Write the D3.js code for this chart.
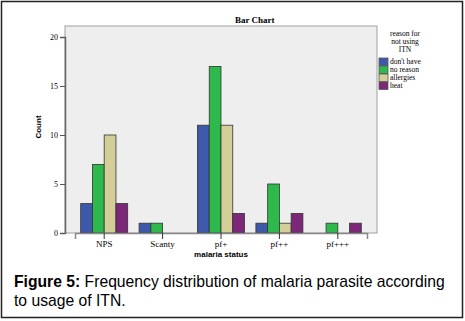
<!DOCTYPE html>
<html>
<head>
<meta charset="utf-8">
<script src="https://cdn.jsdelivr.net/npm/d3@7"></script>
<style>
  body { margin: 0; background: #fff; }
  svg text { fill: #000; }
</style>
</head>
<body>
<svg id="chart" width="465" height="321"></svg>
<script>
var categories = [ 'NPS', 'Scanty', 'pf+', 'pf++', 'pf+++' ];
var reasons = [ "don't have", 'no reason', 'allergies', 'heat' ];
var dontHave = [ 3, 1, 11, 1, 0 ];
var noReason = [ 7, 1, 17, 5, 1 ];
var allergies = [ 10, 0, 11, 1, 0 ];
var heat = [ 3, 0, 2, 2, 1 ];
var yTicks = [ 0, 5, 10, 15, 20 ];
var colors = [ '#3f59aa', '#2db94b', '#d4cf99', '#7d2779' ];

var series = [ dontHave, noReason, allergies, heat ];

var svg = d3.select( '#chart' );

// outer frame
svg.append( 'rect' )
	.attr( 'x', 1.5 ).attr( 'y', 1.5 )
	.attr( 'width', 461 ).attr( 'height', 316 )
	.attr( 'fill', '#fff' ).attr( 'stroke', '#222' ).attr( 'stroke-width', 1.5 );

var plot = { left: 65, top: 26, right: 377, bottom: 233 };

var x = d3.scaleBand()
	.domain( categories )
	.range( [ plot.left + 10, plot.right - 10 ] )
	.paddingInner( 0 );

var sub = d3.scaleBand()
	.domain( d3.range( reasons.length ) )
	.range( [ -23.5, 23.5 ] );

var y = d3.scaleLinear().domain( [ 0, 20 ] ).range( [ plot.bottom, 37 ] );

svg.append( 'rect' )
	.attr( 'x', plot.left ).attr( 'y', plot.top )
	.attr( 'width', plot.right - plot.left ).attr( 'height', plot.bottom - plot.top )
	.attr( 'fill', '#eeeeee' ).attr( 'stroke', '#a0a0a0' ).attr( 'stroke-width', 1 );

// bars
var bars = svg.append( 'g' );
series.forEach( function ( values, s ) {
	bars.selectAll( 'rect.s' + s )
		.data( values.map( function ( v, i ) { return { cat: categories[i], value: v }; } ).filter( function ( d ) { return d.value > 0; } ) )
		.enter()
		.append( 'rect' )
		.attr( 'class', 's' + s )
		.attr( 'x', function ( d ) { return x( d.cat ) + x.bandwidth() / 2 + sub( s ); } )
		.attr( 'y', function ( d ) { return y( d.value ); } )
		.attr( 'width', sub.bandwidth() )
		.attr( 'height', function ( d ) { return y( 0 ) - y( d.value ); } )
		.attr( 'fill', colors[s] )
		.attr( 'stroke', '#333' )
		.attr( 'stroke-width', 0.8 );
} );

// axes
var yAxis = d3.axisLeft( y ).tickValues( yTicks ).tickSize( 5 ).tickPadding( 2 );
var gy = svg.append( 'g' )
	.attr( 'transform', 'translate(' + plot.left + ',0)' )
	.call( yAxis );
gy.select( '.domain' ).attr( 'stroke', '#666' ).attr( 'stroke-width', 1.5 );
gy.selectAll( '.tick line' ).attr( 'stroke', '#555' );
gy.selectAll( 'text' ).attr( 'font-family', 'Liberation Serif' ).attr( 'font-size', 8 ).attr( 'fill', '#333' );

var xAxis = d3.axisBottom( x ).tickSize( 6 ).tickPadding( 2 );
var gx = svg.append( 'g' )
	.attr( 'transform', 'translate(0,' + plot.bottom + ')' )
	.call( xAxis );
gx.select( '.domain' ).attr( 'stroke', '#888' ).attr( 'stroke-width', 1.5 );
gx.selectAll( '.tick line' ).attr( 'stroke', '#333' );
gx.selectAll( 'text' ).attr( 'font-family', 'Liberation Serif' ).attr( 'font-size', 9 ).attr( 'fill', '#333' );

// titles
svg.append( 'text' )
	.attr( 'x', 235 ).attr( 'y', 23 )
	.attr( 'font-family', 'Liberation Serif' ).attr( 'font-weight', 'bold' ).attr( 'font-size', 9 )
	.text( 'Bar Chart' );

svg.append( 'text' )
	.attr( 'transform', 'translate(41,127) rotate(-90)' )
	.attr( 'text-anchor', 'middle' )
	.attr( 'font-family', 'Liberation Sans' ).attr( 'font-weight', 'bold' ).attr( 'font-size', 8 )
	.text( 'Count' );

svg.append( 'text' )
	.attr( 'x', 221 ).attr( 'y', 257 )
	.attr( 'text-anchor', 'middle' )
	.attr( 'font-family', 'Liberation Sans' ).attr( 'font-weight', 'bold' ).attr( 'font-size', 8 )
	.text( 'malaria status' );

// legend
var legend = svg.append( 'g' );
legend.selectAll( 'text.head' )
	.data( [ 'reason for', 'not using', 'ITN' ] )
	.enter()
	.append( 'text' )
	.attr( 'class', 'head' )
	.attr( 'x', 405 ).attr( 'y', function ( d, i ) { return 36 + i * 8; } )
	.attr( 'text-anchor', 'middle' )
	.attr( 'font-family', 'Liberation Serif' ).attr( 'font-size', 7.5 )
	.text( function ( d ) { return d; } );

var items = legend.selectAll( 'g.item' )
	.data( reasons )
	.enter()
	.append( 'g' )
	.attr( 'class', 'item' )
	.attr( 'transform', function ( d, i ) { return 'translate(379,' + ( 58 + i * 8 ) + ')'; } );
items.append( 'rect' )
	.attr( 'width', 9 ).attr( 'height', 7.5 )
	.attr( 'fill', function ( d, i ) { return colors[i]; } )
	.attr( 'stroke', '#555' ).attr( 'stroke-width', 0.8 );
items.append( 'text' )
	.attr( 'x', 11 ).attr( 'y', 6.2 )
	.attr( 'font-family', 'Liberation Serif' ).attr( 'font-size', 7.5 )
	.text( function ( d ) { return d; } );

// caption
var caption = svg.append( 'text' )
	.attr( 'font-family', 'Liberation Sans' ).attr( 'font-size', 15.7 ).attr( 'fill', '#000' );
var line1 = caption.append( 'tspan' ).attr( 'x', 14 ).attr( 'y', 287 );
line1.append( 'tspan' ).attr( 'font-weight', 'bold' ).text( 'Figure 5:' );
line1.append( 'tspan' ).text( ' Frequency distribution of malaria parasite according' );
caption.append( 'tspan' ).attr( 'x', 14 ).attr( 'y', 306 ).text( 'to usage of ITN.' );
</script>
</body>
</html>
